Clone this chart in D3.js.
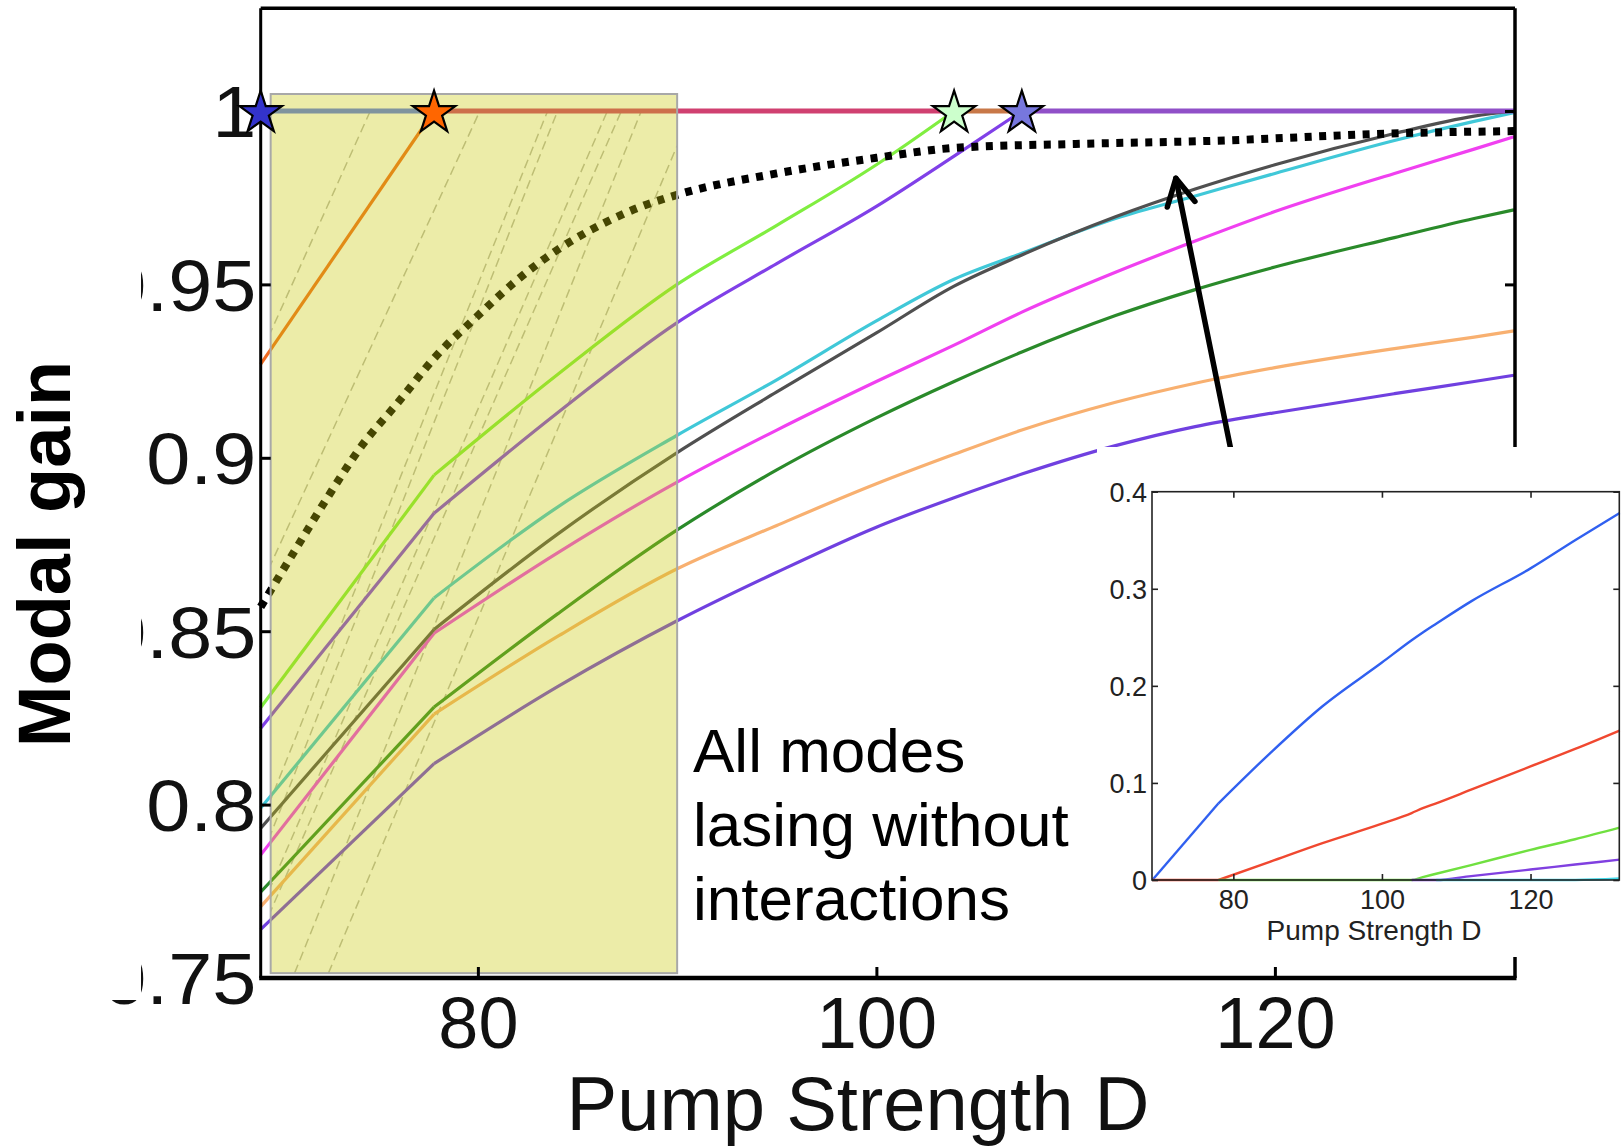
<!DOCTYPE html>
<html>
<head>
<meta charset="utf-8">
<script src="https://cdn.jsdelivr.net/npm/d3@7"></script>
<style>
  body { margin: 0; background: #fff; }
  text { font-family: "Liberation Sans", Arial, sans-serif; }
</style>
</head>
<body>
<svg id="chart" width="1623" height="1147"></svg>
<script>
// ---- data ----
const pumpD = [69.1, 77.8, 84, 90, 95, 100, 103.9, 107.3, 112, 116, 120, 126, 130, 132]

const mode1 = [1, 1, 1, 1, 1, 1, 1, 1, 1, 1, 1, 1, 1, 1]
const mode2 = [0.927, 1, 1, 1, 1, 1, 1, 1, 1, 1, 1, 1, 1, 1]
const mode3 = [0.828, 0.895, 0.924, 0.950, 0.967, 0.9845, 1, 1, 1, 1, 1, 1, 1, 1]
const mode4 = [0.822, 0.884, 0.913, 0.939, 0.956, 0.9725, 0.987, 1, 1, 1, 1, 1, 1, 1]
const mode5 = [0.799, 0.8596, 0.8858, 0.9065, 0.9225, 0.9395, 0.9515, 0.959, 0.969, 0.9755, 0.982, 0.9915, 0.997, 0.9995]
const mode6 = [0.7932, 0.8505, 0.878, 0.9015, 0.919, 0.936, 0.9495, 0.9585, 0.9695, 0.9775, 0.9845, 0.9935, 0.9985, 1]
const mode7 = [0.7855, 0.8494, 0.8726, 0.893, 0.908, 0.922, 0.9325, 0.942, 0.9535, 0.9625, 0.971, 0.982, 0.989, 0.9926]
const mode8 = [0.7748, 0.8281, 0.855, 0.8792, 0.8965, 0.9115, 0.922, 0.9305, 0.941, 0.9485, 0.955, 0.9635, 0.969, 0.9715]
const mode9 = [0.7706, 0.8261, 0.8485, 0.868, 0.8805, 0.8925, 0.901, 0.908, 0.916, 0.9215, 0.926, 0.9315, 0.9348, 0.9366]
const mode10 = [0.764, 0.8118, 0.834, 0.853, 0.867, 0.880, 0.8885, 0.8953, 0.9035, 0.909, 0.913, 0.9185, 0.922, 0.9238]

// dotted reference curve
const dottedD = [69.1, 71, 72.5, 74.2, 76, 77.85, 80, 82, 84, 86.1, 88, 90.1, 95, 100, 104, 110, 116.9, 126.3, 132]
const dottedG = [0.857, 0.875, 0.889, 0.9037, 0.916, 0.929, 0.941, 0.9514, 0.960, 0.967, 0.972, 0.976, 0.982, 0.9865, 0.9894, 0.9905, 0.9914, 0.9936, 0.9942]

// lasing thresholds (where each mode reaches gain 1)
const thresholdD = [69.1, 77.8, 103.9, 107.3]
const lastD = 132

// shaded "no interactions" region
const boxD = [69.6, 90.0]
const boxG = [0.7514, 1.0049]

// faint dashed guide lines inside the shaded region [D0, g0, D1, g1]
const dashedGuides = [
  [69.5, 0.935, 74.6, 1.0],
  [69.5, 0.868, 80.1, 1.0],
  [69.5, 0.80, 83.5, 1.0],
  [69.5, 0.79, 84.0, 1.0],
  [69.5, 0.775, 86.5, 1.0],
  [69.5, 0.768, 87.2, 1.0],
  [70.8, 0.7514, 88.2, 1.0],
  [72.5, 0.7514, 90.0, 0.99]
]

const xTicks = [80, 100, 120]
const yTicks = [0.75, 0.8, 0.85, 0.9, 0.95, 1]

// inset: intensities
const insetD = [69.1, 78, 85, 92, 100, 104, 105.5, 107.3, 112, 120, 126, 132]
const insetBlue = [0, 0.079, 0.131, 0.179, 0.224, 0.247, 0.255, 0.264, 0.287, 0.321, 0.35, 0.378]
const insetRed = [0, 0, 0.019, 0.038, 0.058, 0.069, 0.074, 0.079, 0.093, 0.117, 0.135, 0.154]
const insetGreen = [null, 0, 0, 0, 0, 0, 0.003, 0.0064, 0.0154, 0.031, 0.042, 0.054]
const insetPurple = [null, null, null, null, null, 0, 0, 0, 0.004, 0.0108, 0.0159, 0.021]
const insetCyan = [null, null, null, null, null, null, null, 0, 0, 0, 0, 0.0015]
const insetXTicks = [80, 100, 120]
const insetYTicks = [0, 0.1, 0.2, 0.3, 0.4]

// arrow from inset to dotted curve [D, g]
const arrowTail = [118.4, 0.885]
const arrowTip = [115.03, 0.9806]

// ---- styles ----
const modeColors = {
  mode1: '#3a50e8', mode2: '#f06a20', mode3: '#80ee40', mode4: '#8040e8',
  mode5: '#40c8d8', mode6: '#505050', mode7: '#f040f0', mode8: '#2a8a2a',
  mode9: '#f8b070', mode10: '#7040e0'
}
const topColors = ['#5a78f0', '#d04070', '#c87848', '#9050c8']
const starColors = ['#3333cc', '#ff6600', '#ccffcc', '#7777dd']
const insetColors = ['#3060f0', '#f04830', '#70e040', '#8040e0', '#40d8e8']

const svg = d3.select('#chart')
svg.append('rect').attr('width', 1623).attr('height', 1147).attr('fill', '#fff')

const x = d3.scaleLinear().domain([69.1, 132.05]).range([260.7, 1515])
const y = d3.scaleLinear().domain([0.75, 1]).range([978, 111])
const yTop = 1.0296

const defs = svg.append('defs')
defs.append('clipPath').attr('id', 'boxclip')
  .append('rect')
  .attr('x', x(boxD[0])).attr('y', y(boxG[1]))
  .attr('width', x(boxD[1]) - x(boxD[0]))
  .attr('height', y(boxG[0]) - y(boxG[1]))
defs.append('filter').attr('id', 'soft')
  .append('feGaussianBlur').attr('stdDeviation', 1.6)

const plot = svg.append('g')

// dashed guides
plot.append('g')
  .attr('clip-path', 'url(#boxclip)')
  .selectAll('line')
  .data(dashedGuides)
  .enter()
  .append('line')
  .attr('x1', d => x(d[0])).attr('y1', d => y(d[1]))
  .attr('x2', d => x(d[2])).attr('y2', d => y(d[3]))
  .attr('stroke', '#b8b8b0')
  .attr('stroke-width', 1.5)
  .attr('stroke-dasharray', '9,5')

// mode curves: straight up to the first kink, smooth afterwards
const lineLin = d3.line().x(d => x(d[0])).y(d => y(d[1]))
const lineSmooth = d3.line().x(d => x(d[0])).y(d => y(d[1])).curve(d3.curveMonotoneX)

const drawOrder = ['mode10', 'mode9', 'mode8', 'mode7', 'mode5', 'mode6', 'mode4', 'mode3', 'mode2', 'mode1']
const modeValues = { mode1, mode2, mode3, mode4, mode5, mode6, mode7, mode8, mode9, mode10 }

function modePoints(k) {
  const pts = pumpD.map((d, i) => [d, modeValues[k][i]])
  const hit = pts.findIndex(p => p[1] >= 1)
  return hit > 0 ? pts.slice(0, hit + 1) : pts
}

drawOrder.forEach(k => {
  const pts = modePoints(k)
  const g = plot.append('g')
    .attr('fill', 'none')
    .attr('stroke', modeColors[k])
    .attr('stroke-width', 3.2)
    .attr('stroke-linejoin', 'round')
  g.append('path').attr('d', lineLin(pts.slice(0, 2)))
  if (pts.length > 2) g.append('path').attr('d', lineSmooth(pts.slice(1)))
})

// dotted curve
plot.append('path')
  .attr('d', lineSmooth(dottedD.map((d, i) => [d, dottedG[i]])))
  .attr('fill', 'none')
  .attr('stroke', '#000')
  .attr('stroke-width', 8)
  .attr('stroke-dasharray', '7,7.5')

// saturated gain = 1, coloured by last mode to reach it
const topBreaks = thresholdD.concat([lastD])
plot.selectAll('.top')
  .data(topColors)
  .enter()
  .append('line')
  .attr('class', 'top')
  .attr('x1', (c, i) => x(topBreaks[i]))
  .attr('x2', (c, i) => x(topBreaks[i + 1]))
  .attr('y1', y(1)).attr('y2', y(1))
  .attr('stroke', c => c)
  .attr('stroke-width', 5)

// shaded region overlay
const bx0 = x(boxD[0]), bx1 = x(boxD[1]), by0 = y(boxG[1]), by1 = y(boxG[0])
plot.append('line')
  .attr('x1', bx1 + 2).attr('x2', bx1 + 2)
  .attr('y1', by0 + 3).attr('y2', by1 + 2)
  .attr('stroke', '#888')
  .attr('stroke-width', 4)
  .attr('opacity', 0.7)
  .attr('filter', 'url(#soft)')
plot.append('rect')
  .attr('x', bx0).attr('y', by0)
  .attr('width', bx1 - bx0).attr('height', by1 - by0)
  .attr('fill', '#c8c806')
  .attr('fill-opacity', 0.35)
  .attr('stroke', '#a8a8a8')
  .attr('stroke-width', 2)

// arrow
const tx = x(arrowTip[0]), ty = y(arrowTip[1])
const sx = x(arrowTail[0]), sy = y(arrowTail[1])
const ang = Math.atan2(sy - ty, sx - tx)
const armLen = 30, half = 28 * Math.PI / 180
const arrow = svg.append('g')
  .attr('stroke', '#000').attr('stroke-width', 5.5)
  .attr('stroke-linecap', 'round').attr('fill', 'none')
arrow.append('line').attr('x1', sx).attr('y1', sy).attr('x2', tx).attr('y2', ty)
arrow.append('path')
  .attr('stroke-linejoin', 'round')
  .attr('d', d3.line()([
    [tx + armLen * Math.cos(ang + half), ty + armLen * Math.sin(ang + half)],
    [tx, ty],
    [tx + armLen * Math.cos(ang - half), ty + armLen * Math.sin(ang - half)]
  ]))

// main frame and ticks
const frame = svg.append('g').attr('stroke', '#000')
frame.append('line').attr('x1', x.range()[0]).attr('x2', x.range()[0])
  .attr('y1', y(yTop)).attr('y2', y(0.75)).attr('stroke-width', 3)
frame.append('line').attr('x1', x.range()[1]).attr('x2', x.range()[1])
  .attr('y1', y(yTop)).attr('y2', y(0.75)).attr('stroke-width', 3.5)
frame.append('line').attr('x1', x.range()[0]).attr('x2', x.range()[1])
  .attr('y1', y(yTop)).attr('y2', y(yTop)).attr('stroke-width', 3.5)
frame.append('line').attr('x1', x.range()[0] - 1.5).attr('x2', x.range()[1] + 1.5)
  .attr('y1', y(0.75)).attr('y2', y(0.75)).attr('stroke-width', 4.5)

const yAxis = svg.append('g')
  .attr('transform', `translate(${x.range()[0]},0)`)
  .call(d3.axisLeft(y).tickValues(yTicks).tickSize(-10).tickPadding(4)
    .tickFormat(d => String(d)))
yAxis.select('.domain').remove()
yAxis.selectAll('line').attr('stroke', '#000').attr('stroke-width', 3)
yAxis.selectAll('text')
  .attr('font-size', 72)
  .attr('fill', '#111')
  .attr('transform', 'scale(1.1,1)')
  .attr('dy', '0.36em')

const yAxisR = svg.append('g')
  .attr('transform', `translate(${x.range()[1]},0)`)
  .call(d3.axisRight(y).tickValues(yTicks).tickSize(-10).tickFormat(''))
yAxisR.select('.domain').remove()
yAxisR.selectAll('line').attr('stroke', '#000').attr('stroke-width', 3)

const xAxis = svg.append('g')
  .attr('transform', `translate(0,${y(0.75)})`)
  .call(d3.axisBottom(x).tickValues(xTicks).tickSize(-11).tickPadding(19))
xAxis.select('.domain').remove()
xAxis.selectAll('line').attr('stroke', '#000').attr('stroke-width', 3)
xAxis.selectAll('text').attr('font-size', 72).attr('fill', '#111')

// inset
const inset = svg.append('g')
inset.append('rect')
  .attr('x', 1097).attr('y', 447).attr('width', 526).attr('height', 510)
  .attr('fill', '#fff')

const xi = d3.scaleLinear().domain([69.05, 131.95]).range([1152, 1619.3])
const yi = d3.scaleLinear().domain([0, 0.4]).range([880, 491.7])

const insetSeries = [insetBlue, insetRed, insetGreen, insetPurple, insetCyan]
const ilineLin = d3.line().x(d => xi(d[0])).y(d => yi(d[1]))
const ilineSmooth = d3.line().x(d => xi(d[0])).y(d => yi(d[1])).curve(d3.curveMonotoneX)
const insetKink = 78

insetSeries.forEach((s, i) => {
  const pts = insetD.map((d, j) => [d, s[j]]).filter(p => p[1] != null)
  const before = pts.filter(p => p[0] <= insetKink)
  const after = pts.filter(p => p[0] >= insetKink)
  const g = inset.append('g')
    .attr('fill', 'none')
    .attr('stroke', insetColors[i])
    .attr('stroke-width', 2.4)
  if (before.length > 1) g.append('path').attr('d', ilineLin(before))
  if (after.length > 1) g.append('path').attr('d', ilineSmooth(after))
})

inset.append('rect')
  .attr('x', xi.range()[0]).attr('y', yi.range()[1])
  .attr('width', xi.range()[1] - xi.range()[0])
  .attr('height', yi.range()[0] - yi.range()[1])
  .attr('fill', 'none').attr('stroke', '#222').attr('stroke-width', 1.6)

const iy = inset.append('g')
  .attr('transform', `translate(${xi.range()[0]},0)`)
  .call(d3.axisLeft(yi).tickValues(insetYTicks).tickSize(-6).tickPadding(5)
    .tickFormat(d => d === 0 ? '0' : d.toFixed(1)))
const iyr = inset.append('g')
  .attr('transform', `translate(${xi.range()[1]},0)`)
  .call(d3.axisRight(yi).tickValues(insetYTicks).tickSize(-6).tickFormat(''))
const ix = inset.append('g')
  .attr('transform', `translate(0,${yi.range()[0]})`)
  .call(d3.axisBottom(xi).tickValues(insetXTicks).tickSize(-6).tickPadding(10))
const ixt = inset.append('g')
  .attr('transform', `translate(0,${yi.range()[1]})`)
  .call(d3.axisTop(xi).tickValues(insetXTicks).tickSize(-6).tickFormat(''))
;[iy, iyr, ix, ixt].forEach(a => {
  a.select('.domain').remove()
  a.selectAll('line').attr('stroke', '#222').attr('stroke-width', 1.6)
  a.selectAll('text').attr('font-size', 27).attr('fill', '#222')
})
iy.selectAll('text').attr('dy', '0.36em')

inset.append('text')
  .text('Pump Strength D')
  .attr('x', 1374).attr('y', 940)
  .attr('text-anchor', 'middle')
  .attr('font-size', 28)
  .attr('fill', '#222')

// stars at lasing thresholds
const star = d3.symbol().type(d3.symbolStar).size(560)
svg.selectAll('.star')
  .data(thresholdD)
  .enter()
  .append('path')
  .attr('class', 'star')
  .attr('d', star)
  .attr('transform', d => `translate(${x(d)},${y(1) + 2})`)
  .attr('fill', (d, i) => starColors[i])
  .attr('stroke', '#000')
  .attr('stroke-width', 2.2)
  .attr('stroke-linejoin', 'miter')

// clip the left tick labels and place the axis titles
svg.append('rect').attr('x', 0).attr('y', 0).attr('width', 141).attr('height', 1000).attr('fill', '#fff')

svg.append('text')
  .text('Modal gain')
  .attr('transform', 'translate(70,554) rotate(-90)')
  .attr('text-anchor', 'middle')
  .attr('font-size', 74)
  .attr('font-weight', 'bold')
  .attr('fill', '#000')

svg.append('text')
  .text('Pump Strength D')
  .attr('x', 858).attr('y', 1130)
  .attr('text-anchor', 'middle')
  .attr('font-size', 76)
  .attr('fill', '#111')

const note = svg.append('text')
  .attr('font-size', 62)
  .attr('fill', '#000')
;['All modes', 'lasing without', 'interactions'].forEach((t, i) => {
  note.append('tspan').attr('x', 693).attr('y', 772 + i * 74).text(t)
})
</script>
</body>
</html>
